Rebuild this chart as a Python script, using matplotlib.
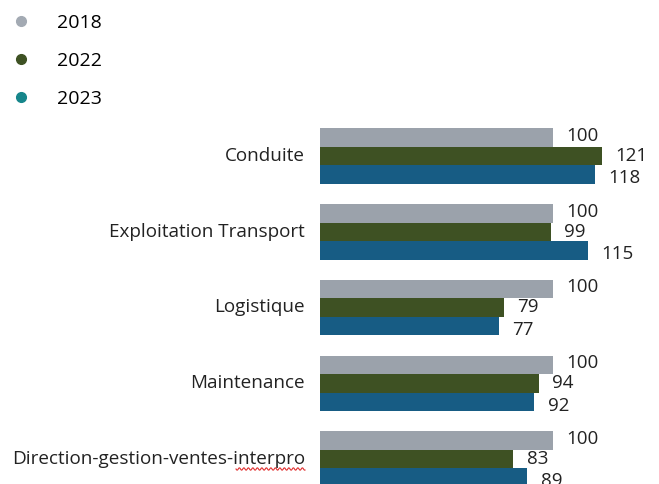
import numpy as np
import matplotlib
matplotlib.use("Agg")
import matplotlib.pyplot as plt
from matplotlib.lines import Line2D

plt.rcParams['font.family'] = ['Open Sans', 'DejaVu Sans']

# data
categories = ["Conduite", "Exploitation Transport", "Logistique", "Maintenance",
              "Direction-gestion-ventes-interpro"]
years = ["2018", "2022", "2023"]
v2018 = [100, 100, 100, 100, 100]
v2022 = [121, 99, 79, 94, 83]
v2023 = [118, 115, 77, 92, 89]

bar_colors = ["#9ba2ab", "#3e5123", "#175c84"]
legend_colors = ["#a3aab3", "#3e5123", "#16868b"]
label_dy = [1.2, 0, -2.8]  # small vertical nudge of value labels, in points

W, H = 659, 484
fig = plt.figure(figsize=(W / 100, H / 100), dpi=100)
ax = fig.add_axes([320 / W, 0, (W - 320) / W, 1])

step = 75.75
bh = 18.5 / step
y = np.arange(len(categories))
for k, vals in enumerate([v2018, v2022, v2023]):
    pos = y + (k - 1) * bh
    ax.barh(pos, vals, height=bh, color=bar_colors[k])
    for p, v in zip(pos, vals):
        ax.annotate(str(v), (v, p), xytext=(9.5, label_dy[k]), textcoords="offset points",
                    va="center", ha="left", fontsize=13.5, color="#222222")

ax.set_xlim(0, (W - 320) / 2.33)
top = -156 / step
bottom = (H - 156) / step
ax.set_ylim(bottom, top)
ax.axis("off")

for i, c in enumerate(categories):
    ax.text(-6.5, i, c, ha="right", va="center", fontsize=13.6, color="#222222")

# red squiggle under "interpro" (spell-check mark)
xs = np.linspace(236, 305, 120)
ys = 469 + 1.2 * np.sin((xs - 236) * 2 * np.pi / 4.5)
fig.add_artist(Line2D(xs / W, 1 - ys / H, color="#e03030", lw=0.8))

handles = [Line2D([], [], marker="o", ls="", color=c, markersize=7) for c in legend_colors]
fig.legend(handles, years, loc="upper left", bbox_to_anchor=(3.5 / W, 1 - 6 / H),
           frameon=False, fontsize=14, handlelength=1.0, handletextpad=1.36,
           labelspacing=1.03, borderaxespad=0)

fig.savefig("out.png", dpi=100)
